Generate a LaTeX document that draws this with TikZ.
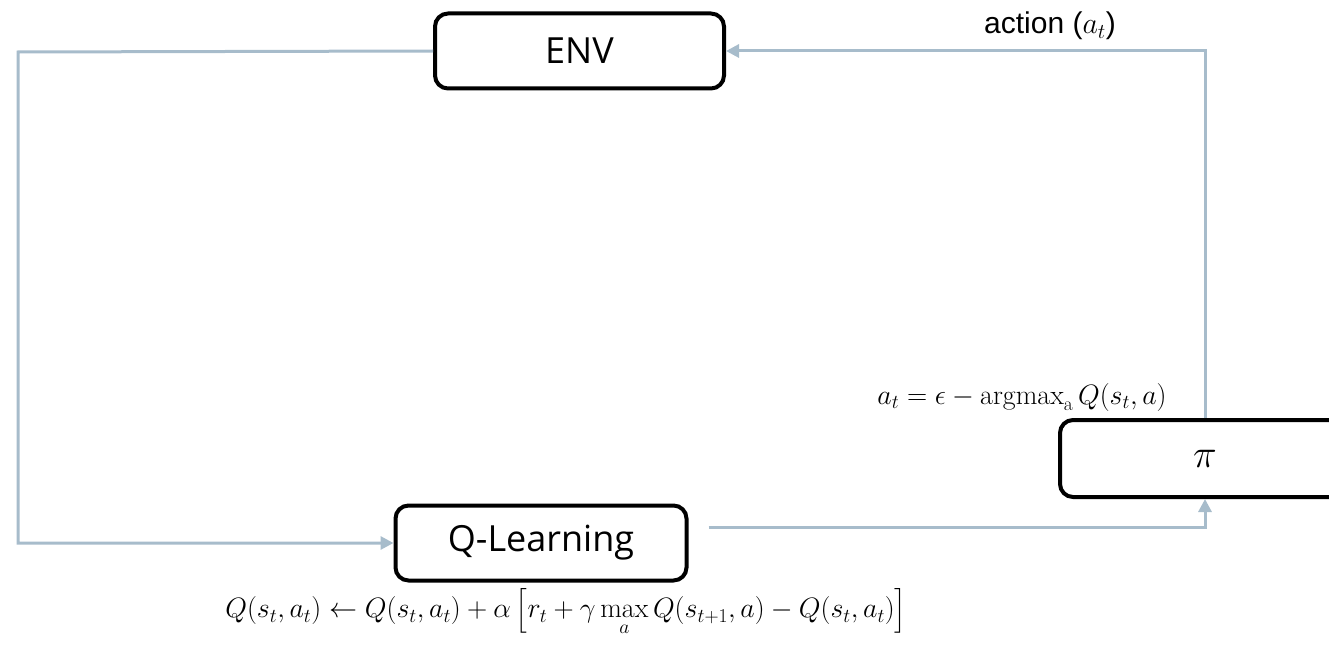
\RequirePackage{fix-cm}
\documentclass[tikz,border=0pt]{standalone}
\usepackage{amsmath}
\usepackage{fontspec}
\newfontfamily\boxfont{Open Sans}
\newfontfamily\arialfont{Liberation Sans}
\usetikzlibrary{arrows.meta}
\definecolor{linec}{HTML}{A7BCCB}
\begin{document}
\begin{tikzpicture}[x=1pt,y=-1pt,
  blk/.style={draw=black, line width=4pt, rounded corners=13pt, fill=white,
    font=\boxfont\fontsize{36}{42}\selectfont, inner sep=0pt},
  conn/.style={draw=linec, line width=3pt, -{Triangle[length=13pt,width=13pt]}},
  lbl/.style={inner sep=0pt},
  mathlbl/.style={inner sep=0pt, font=\fontsize{28}{32}\selectfont}]
\useasboundingbox (0,0) rectangle (1329,650);
\node[blk, minimum width=289pt, minimum height=75pt] (env) at (579.5,51) {ENV};
\node[blk, minimum width=291pt, minimum height=75pt] (ql) at (541,543) {Q-Learning};
\node[blk, minimum width=290pt, minimum height=77pt, font=\fontsize{40}{44}\selectfont] (pi) at (1205,458.5) {$\pi$};
\coordinate (lft) at (18,52);
\draw[conn] (env.west) -- (lft) |- (ql.west);
\draw[conn] ([xshift=20pt,yshift=16pt]ql.east) -| (pi.south);
\draw[conn] (pi.north) |- (env.east);
\node[lbl, font=\arialfont\fontsize{30}{34}\selectfont] (act) at (1050,26) {action ($a_t$)};
\node[mathlbl] (pol) at (1022,397) {$a_t=\epsilon-\mathrm{argmax}_{\mathrm{a}}\,Q(s_t,a)$};
\node[mathlbl] (upd) at (566,612) {$Q(s_t,a_t)\leftarrow Q(s_t,a_t)+\alpha\left[r_t+\gamma\max\limits_a Q(s_{t+1},a)-Q(s_t,a_t)\right]$};
\end{tikzpicture}
\end{document}
